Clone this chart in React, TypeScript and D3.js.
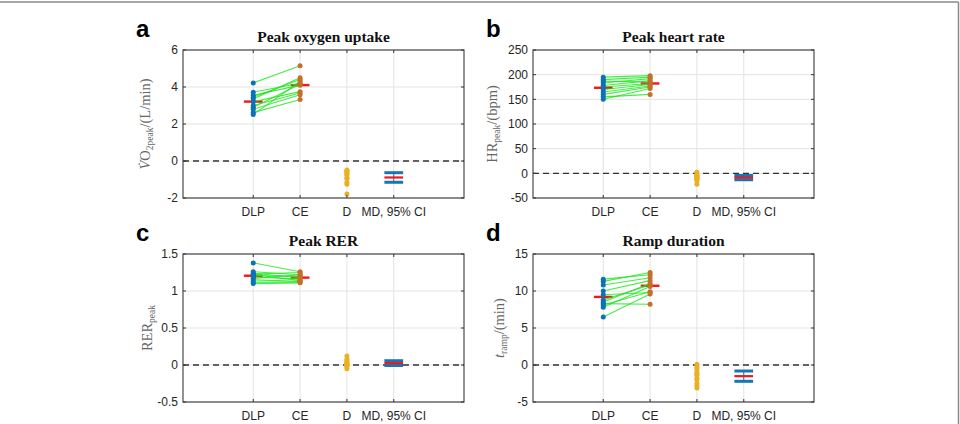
import React from "react";
import * as d3 from "d3";

// Group labels along the x axis
const groups = ["DLP", "CE", "D", "MD, 95% CI"];

// Peak oxygen uptake (L/min), paired per participant
const vo2DLP = [4.22, 3.72, 3.55, 3.45, 3.35, 3.2, 3.0, 2.9, 2.8, 2.62, 2.52];
const vo2CE = [5.15, 4.2, 4.1, 4.4, 4.5, 3.75, 3.68, 4.15, 3.58, 3.32, 4.3];
const vo2Ticks = [-2, 0, 2, 4, 6];

// Peak heart rate (bpm)
const hrDLP = [195, 190, 187, 183, 178, 175, 170, 165, 160, 155, 150];
const hrCE = [198, 195, 185, 192, 188, 182, 180, 177, 175, 160, 172];
const hrTicks = [-50, 0, 50, 100, 150, 200, 250];

// Peak respiratory exchange ratio
const rerDLP = [1.38, 1.26, 1.24, 1.23, 1.22, 1.21, 1.19, 1.17, 1.15, 1.12, 1.1];
const rerCE = [1.26, 1.22, 1.18, 1.25, 1.14, 1.2, 1.16, 1.22, 1.13, 1.12, 1.11];
const rerTicks = [-0.5, 0, 0.5, 1, 1.5];

// Ramp duration (min)
const rampDLP = [11.6, 11.3, 10.8, 10.0, 9.5, 8.8, 8.5, 8.3, 8.1, 7.8, 6.5];
const rampCE = [12.2, 12.5, 11.8, 11.4, 9.8, 10.8, 11.0, 8.2, 9.9, 10.6, 9.6];
const rampTicks = [-5, 0, 5, 10, 15];

// two-sided 95% t quantile for 10 degrees of freedom
const T_CRIT = 2.228;

const C_DLP = "#0b72b5";
const C_CE = "#c2702a";
const C_D = "#ebb021";
const C_MD = "#1a74b8";
const C_MEAN = "#f01818";
const C_PAIR = "#19e619";

type PanelSpec = {
  letter: string;
  title: string;
  dlp: number[];
  ce: number[];
  ticks: number[];
  left: number;
  top: number;
  label: React.ReactNode;
};

const PW = 281;
const PH = 148;

function Panel({ spec }: { spec: PanelSpec }) {
  const { dlp, ce, ticks, left, top } = spec;
  const x = d3.scaleLinear().domain([-0.5, 5.5]).range([left, left + PW]);
  const y = d3
    .scaleLinear()
    .domain([ticks[0], ticks[ticks.length - 1]])
    .range([top + PH, top]);
  const diff = dlp.map((v, i) => v - ce[i]);
  const mDLP = d3.mean(dlp)!;
  const mCE = d3.mean(ce)!;
  const md = d3.mean(diff)!;
  const half = (T_CRIT * d3.deviation(diff)!) / Math.sqrt(diff.length);
  const pos = [1, 2, 3, 4];
  const hw = x(0.2) - x(0);
  return (
    <g>
      {/* grid */}
      {ticks.map((t) => (
        <line key={"gy" + t} x1={left} x2={left + PW} y1={y(t)} y2={y(t)} stroke="#e3e3e3" strokeWidth={1} />
      ))}
      {pos.map((p) => (
        <line key={"gx" + p} x1={x(p)} x2={x(p)} y1={top} y2={top + PH} stroke="#e3e3e3" strokeWidth={1} />
      ))}
      {/* zero reference */}
      <line x1={left} x2={left + PW} y1={y(0)} y2={y(0)} stroke="#333" strokeWidth={1.4} strokeDasharray="6,4" />
      {/* group means */}
      <line x1={x(1) - hw} x2={x(1) + hw} y1={y(mDLP)} y2={y(mDLP)} stroke={C_MEAN} strokeWidth={2.4} />
      <line x1={x(2) - hw} x2={x(2) + hw} y1={y(mCE)} y2={y(mCE)} stroke={C_MEAN} strokeWidth={2.4} />
      {/* paired lines */}
      {dlp.map((v, i) => (
        <line key={"p" + i} x1={x(1)} x2={x(2)} y1={y(v)} y2={y(ce[i])} stroke={C_PAIR} strokeOpacity={0.8} strokeWidth={1.1} />
      ))}
      {dlp.map((v, i) => (
        <circle key={"a" + i} cx={x(1)} cy={y(v)} r={2.5} fill={C_DLP} />
      ))}
      {ce.map((v, i) => (
        <circle key={"b" + i} cx={x(2)} cy={y(v)} r={2.5} fill={C_CE} />
      ))}
      {diff.map((v, i) => (
        <circle key={"c" + i} cx={x(3)} cy={y(v)} r={2.5} fill={C_D} />
      ))}
      {/* mean difference with 95% CI */}
      <line x1={x(4)} x2={x(4)} y1={y(md - half)} y2={y(md + half)} stroke={C_MD} strokeWidth={1} />
      <line x1={x(4) - hw} x2={x(4) + hw} y1={y(md + half)} y2={y(md + half)} stroke={C_MD} strokeWidth={3} />
      <line x1={x(4) - hw} x2={x(4) + hw} y1={y(md - half)} y2={y(md - half)} stroke={C_MD} strokeWidth={3} />
      <line x1={x(4) - hw} x2={x(4) + hw} y1={y(md)} y2={y(md)} stroke={C_MEAN} strokeWidth={2.2} />
      {/* axes box and ticks */}
      <rect x={left} y={top} width={PW} height={PH} fill="none" stroke="#4a4a4a" strokeWidth={1.2} />
      {ticks.map((t) => (
        <g key={"ty" + t}>
          <line x1={left} x2={left + 3} y1={y(t)} y2={y(t)} stroke="#333" />
          <line x1={left + PW - 3} x2={left + PW} y1={y(t)} y2={y(t)} stroke="#333" />
          <text x={left - 5} y={y(t)} dy="0.35em" textAnchor="end" fontFamily="Liberation Sans, Arial, sans-serif" fontSize={12} fill="#262626">
            {String(t)}
          </text>
        </g>
      ))}
      {pos.map((p, i) => (
        <g key={"tx" + p}>
          <line x1={x(p)} x2={x(p)} y1={top + PH} y2={top + PH - 3} stroke="#333" />
          <line x1={x(p)} x2={x(p)} y1={top} y2={top + 3} stroke="#333" />
          <text x={x(p)} y={top + PH + 18} textAnchor="middle" fontFamily="Liberation Sans, Arial, sans-serif" fontSize={12} fill="#262626">
            {groups[i]}
          </text>
        </g>
      ))}
      <text x={left + PW / 2} y={top - 8} textAnchor="middle" fontFamily="Liberation Serif, Times New Roman, serif" fontWeight="bold" fontSize={15.5} fill="#111">
        {spec.title}
      </text>
      <text x={left - 47} y={top - 13} fontFamily="Liberation Sans, Arial, sans-serif" fontWeight="bold" fontSize={24} fill="#000">
        {spec.letter}
      </text>
      {spec.label}
    </g>
  );
}

function YLabel({ x, y, children }: { x: number; y: number; children: React.ReactNode }) {
  return (
    <text transform={`translate(${x},${y}) rotate(-90)`} textAnchor="middle" fontFamily="Liberation Serif, Times New Roman, serif" fontSize={14.5} fill="#666">
      {children}
    </text>
  );
}

const sub = { fontSize: 9.5 } as const;

const panels: PanelSpec[] = [
  {
    letter: "a",
    title: "Peak oxygen uptake",
    dlp: vo2DLP,
    ce: vo2CE,
    ticks: vo2Ticks,
    left: 183,
    top: 50,
    label: (
      <YLabel x={150} y={124}>
        <tspan fontStyle="italic">V̇</tspan>O<tspan {...sub} dy={3}>2peak</tspan>
        <tspan dy={-3}>/(L/min)</tspan>
      </YLabel>
    ),
  },
  {
    letter: "b",
    title: "Peak heart rate",
    dlp: hrDLP,
    ce: hrCE,
    ticks: hrTicks,
    left: 533,
    top: 50,
    label: (
      <YLabel x={497} y={124}>
        HR<tspan {...sub} dy={3}>peak</tspan>
        <tspan dy={-3}>/(bpm)</tspan>
      </YLabel>
    ),
  },
  {
    letter: "c",
    title: "Peak RER",
    dlp: rerDLP,
    ce: rerCE,
    ticks: rerTicks,
    left: 183,
    top: 254,
    label: (
      <YLabel x={152} y={328}>
        RER<tspan {...sub} dy={3}>peak</tspan>
      </YLabel>
    ),
  },
  {
    letter: "d",
    title: "Ramp duration",
    dlp: rampDLP,
    ce: rampCE,
    ticks: rampTicks,
    left: 533,
    top: 254,
    label: (
      <YLabel x={504} y={328}>
        <tspan fontStyle="italic">t</tspan>
        <tspan {...sub} dy={3}>ramp</tspan>
        <tspan dy={-3}>/(min)</tspan>
      </YLabel>
    ),
  },
];

export default function App() {
  return (
    <svg width={960} height={424} style={{ position: "absolute", left: 0, top: 0, background: "#fff" }}>
      <rect x={0} y={0} width={960} height={424} fill="#fff" />
      <line x1={0} x2={958.5} y1={2} y2={2} stroke="#8a8a8a" strokeWidth={1.5} />
      <line x1={958.5} x2={958.5} y1={2} y2={424} stroke="#8a8a8a" strokeWidth={1.5} />
      {panels.map((p) => (
        <Panel key={p.letter} spec={p} />
      ))}
    </svg>
  );
}
